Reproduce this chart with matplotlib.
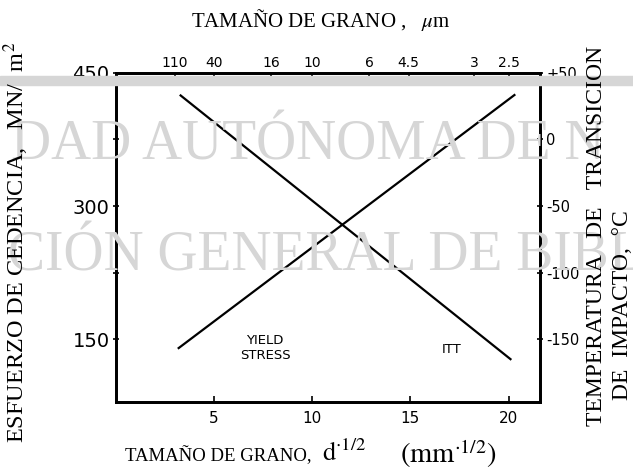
import numpy as np
import matplotlib
matplotlib.use('Agg')
import matplotlib.pyplot as plt

# --- datos ---
yield_x = [3.2, 20.3]          # d^-1/2 (mm^-1/2)
yield_y = [140, 425]           # MN/m2
itt_x = [3.3, 20.1]
itt_t = [33, -165]             # grados C

bottom_ticks = [5, 10, 15, 20]
left_major = [150, 300, 450]
left_minor = [225, 375]
right_ticks = [50, 0, -50, -100, -150]
right_labels = ['+50', '0', '-50', '-100', '-150']
top_um = [110, 40, 16, 10, 6, 4.5, 3, 2.5]
top_labels = ['110', '40', '16', '10', '6', '4.5', '3', '2.5']

XLIM = (0, 21.6)
YLIM = (79, 450)


def left_to_right(v):
    return (v - 375) * 2.0 / 3.0


plt.rcParams['mathtext.fontset'] = 'stix'
serif = 'Liberation Serif'
sans = 'DejaVu Sans'

fig = plt.figure(figsize=(6.33, 4.76), dpi=100)
fig.patch.set_facecolor('white')

# marca de agua (fondo del escaneo)
wm = '#d6d6d6'
fig.text(0.017, 0.665, 'DAD AUTÓNOMA DE N', family=serif, fontsize=40,
         color=wm, ha='left', va='baseline', zorder=0)
fig.text(0.012, 0.432, 'CIÓN GENERAL DE BIBL', family=serif, fontsize=40,
         color=wm, ha='left', va='baseline', zorder=0)
fig.patches.append(plt.Rectangle((0, 0.822), 1, 0.018, transform=fig.transFigure,
                                 color=wm, zorder=0))

ax = fig.add_axes([0.183, 0.155, 0.67, 0.692])
ax.patch.set_alpha(0)
ax.plot(yield_x, yield_y, color='black', lw=1.6)
ax.set_xlim(*XLIM)
ax.set_ylim(*YLIM)

axr = ax.twinx()
axr.plot(itt_x, itt_t, color='black', lw=1.6)
axr.set_ylim(left_to_right(YLIM[0]), left_to_right(YLIM[1]))

axt = ax.twiny()
axt.set_xlim(*XLIM)
top_pos = [1 / np.sqrt(d / 1000.0) for d in top_um]
axt.set_xticks(top_pos)
axt.set_xticklabels(top_labels, family=sans, fontsize=10)
axt.tick_params(axis='x', direction='in', length=4, width=1.2, pad=2)

for a in (ax, axr, axt):
    for s in a.spines.values():
        s.set_linewidth(1.8)

ax.set_xticks(bottom_ticks)
ax.set_xticklabels([str(t) for t in bottom_ticks], family=sans, fontsize=11)
ax.tick_params(axis='x', direction='in', length=4, width=1.2, pad=6)
ax.set_yticks(left_major)
ax.set_yticklabels([str(t) for t in left_major], family=sans, fontsize=14)
ax.set_yticks(left_minor, minor=True)
ax.tick_params(axis='y', which='both', direction='inout', length=5, width=1.2, pad=2)

axr.set_yticks(right_ticks)
axr.set_yticklabels(right_labels, family=sans, fontsize=10.5)
axr.tick_params(axis='y', direction='inout', length=5, width=1.2, pad=2)

ax.text(7.6, 140, 'YIELD\nSTRESS', family=sans, fontsize=9.5, ha='center',
        va='center', linespacing=1.25)
ax.text(17.1, 138, 'ITT', family=sans, fontsize=9.5, ha='center', va='center')

# textos de los ejes
fig.text(0.026, 0.49, 'ESFUERZO DE CEDENCIA,   MN/  m$^2$', family=serif,
         fontsize=17.5, rotation=90, ha='center', va='center')
fig.text(0.943, 0.505, 'TEMPERATURA   DE   TRANSICION', family=serif,
         fontsize=17, rotation=90, ha='center', va='center')
fig.text(0.983, 0.36, 'DE  IMPACTO,  °C', family=serif,
         fontsize=17, rotation=90, ha='center', va='center')
fig.text(0.506, 0.958, 'TAMAÑO DE GRANO ,   $\\mu$m', family=serif,
         fontsize=15, ha='center', va='center')
fig.text(0.197, 0.042, 'TAMAÑO DE GRANO,', family=serif,
         fontsize=13.5, ha='left', va='center')
fig.text(0.508, 0.047, '$\\mathrm{d}^{\\cdot 1/2}$', fontsize=19,
         ha='left', va='center')
fig.text(0.632, 0.047, '$(\\mathrm{mm}^{\\cdot 1/2})$', fontsize=20.5,
         ha='left', va='center')

fig.savefig('out.png', dpi=100, facecolor='white')
